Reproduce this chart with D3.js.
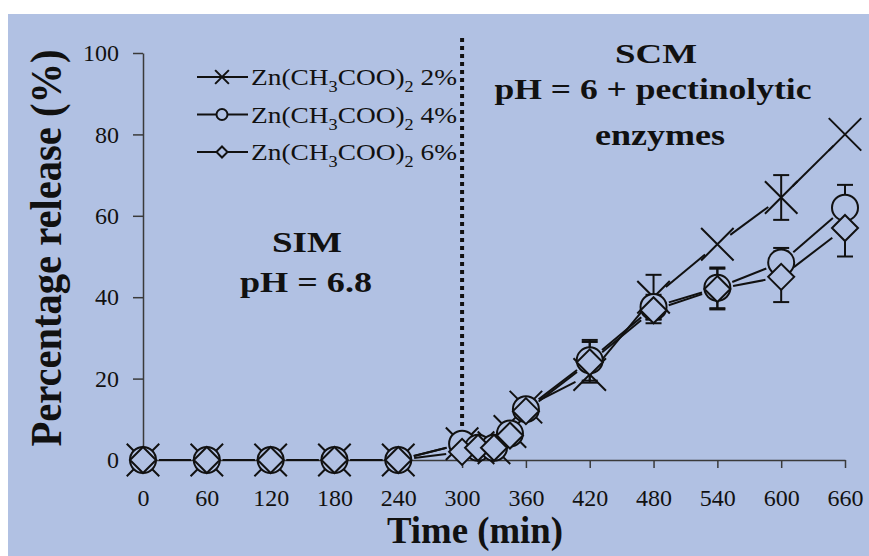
<!DOCTYPE html>
<html>
<head>
<meta charset="utf-8">
<script src="https://cdn.jsdelivr.net/npm/d3@7"></script>
<style>
  body { margin: 0; background: #ffffff; }
  svg { display: block; }
  text { font-family: "Liberation Serif", "Times New Roman", serif; fill: #111; }
</style>
</head>
<body>
<div id="chart"></div>
<script>
// time points (min)
const times = [0, 60, 120, 180, 240, 300, 315, 330, 345, 360, 420, 480, 540, 600, 660];
// percentage release for each Zn(CH3COO)2 concentration
const zn2 = [0, 0, 0, 0, 0, 4, 3, 3, 7, 13, 21, 40, 53, 64.5, 80];
const zn4 = [0, 0, 0, 0, 0, 4, 3, 3, 6.5, 12.5, 24.5, 37.6, 42.3, 48.5, 62];
const zn6 = [0, 0, 0, 0, 0, 2, 3, 3, 6, 12, 24, 36.8, 42, 45, 57];
// standard deviations
const err2 = [0, 0, 0, 0, 0, 0, 0, 0, 0, 1, 0, 5.5, 0, 5.5, 0];
const err4 = [0, 0, 0, 0, 0, 0, 0, 0, 0, 1, 5, 3, 5, 3.6, 5.6];
const err6 = [0, 0, 0, 0, 0, 0, 0, 0, 0, 1, 5, 3.2, 5, 6.2, 7];
const xTicks = [0, 60, 120, 180, 240, 300, 360, 420, 480, 540, 600, 660];
const yTicks = [0, 20, 40, 60, 80, 100];
const legendPct = ["2%", "4%", "6%"];

const W = 869, H = 556;
const bg = "#b1c1e3";

const svg = d3.select("#chart").append("svg")
    .attr("width", W)
    .attr("height", H);

svg.append("rect").attr("width", W).attr("height", H).attr("fill", "#fff");
svg.append("rect").attr("x", 8).attr("y", 14).attr("width", W - 8).attr("height", H - 14).attr("fill", bg);

const x = d3.scaleLinear().domain([0, 660]).range([143, 845]);
const y = d3.scaleLinear().domain([0, 100]).range([460, 53]);

// axes
const yAxis = svg.append("g")
    .attr("transform", `translate(${x(0)},0)`)
    .call(d3.axisLeft(y).tickValues(yTicks).tickSize(10).tickSizeOuter(0).tickPadding(14));
const xAxis = svg.append("g")
    .attr("transform", `translate(0,${y(0)})`)
    .call(d3.axisBottom(x).tickValues(xTicks).tickSize(8).tickSizeOuter(0).tickPadding(21));
[xAxis, yAxis].forEach(a => {
    a.selectAll("path, line").attr("stroke", "#3a3a3a").attr("stroke-width", 1.5);
    a.selectAll("text")
        .style("font-family", "'Liberation Serif', serif")
        .style("font-size", "24px")
        .attr("fill", "#111");
});

// dotted divider between SIM and SCM
svg.append("line")
    .attr("x1", x(300)).attr("x2", x(300))
    .attr("y1", 38).attr("y2", y(0))
    .attr("stroke", "#111")
    .attr("stroke-width", 4)
    .attr("stroke-dasharray", "4,4");

const series = [
    { vals: zn2, err: err2, shape: "x" },
    { vals: zn4, err: err4, shape: "circle" },
    { vals: zn6, err: err6, shape: "diamond" }
];

// error bars
series.forEach(s => {
    times.forEach((t, i) => {
        const e = s.err[i];
        if (!e) return;
        const cx = x(t);
        const g = svg.append("g").attr("stroke", "#111").attr("stroke-width", 2);
        g.append("line").attr("x1", cx).attr("x2", cx)
            .attr("y1", y(s.vals[i] - e)).attr("y2", y(s.vals[i] + e));
        [s.vals[i] - e, s.vals[i] + e].forEach(v => {
            g.append("line").attr("x1", cx - 8).attr("x2", cx + 8)
                .attr("y1", y(v)).attr("y2", y(v));
        });
    });
});

// connecting lines, broken around the markers
const gap = 16;
series.forEach(s => {
    for (let i = 0; i < times.length - 1; i++) {
        const x1 = x(times[i]), y1 = y(s.vals[i]);
        const x2 = x(times[i + 1]), y2 = y(s.vals[i + 1]);
        const len = Math.hypot(x2 - x1, y2 - y1);
        if (len <= 2 * gap) continue;
        const ux = (x2 - x1) / len, uy = (y2 - y1) / len;
        svg.append("line")
            .attr("x1", x1 + ux * gap).attr("y1", y1 + uy * gap)
            .attr("x2", x2 - ux * gap).attr("y2", y2 - uy * gap)
            .attr("stroke", "#111")
            .attr("stroke-width", 2);
    }
});

function marker(g, shape, cx, cy, r) {
    if (shape === "x") {
        const h = r * 1.25;
        g.append("path")
            .attr("d", `M${cx - h},${cy - h}L${cx + h},${cy + h}M${cx - h},${cy + h}L${cx + h},${cy - h}`)
            .attr("stroke", "#111").attr("stroke-width", 2).attr("fill", "none");
    } else if (shape === "circle") {
        g.append("circle").attr("cx", cx).attr("cy", cy).attr("r", r)
            .attr("fill", bg).attr("stroke", "#111").attr("stroke-width", 2);
    } else {
        g.append("path")
            .attr("d", `M${cx},${cy - r}L${cx + r},${cy}L${cx},${cy + r}L${cx - r},${cy}Z`)
            .attr("fill", bg).attr("stroke", "#111").attr("stroke-width", 2);
    }
}

// markers
const mg = svg.append("g");
series.forEach(s => {
    times.forEach((t, i) => marker(mg, s.shape, x(t), y(s.vals[i]), 13));
});

// legend
const leg = svg.append("g");
series.forEach((s, i) => {
    const ly = 77 + i * 37.5;
    leg.append("line").attr("x1", 197).attr("x2", 248).attr("y1", ly).attr("y2", ly)
        .attr("stroke", "#111").attr("stroke-width", 2);
    marker(leg, s.shape, 222, ly, 5.5);
    const t = leg.append("text").attr("x", 251).attr("y", ly + 8)
        .attr("textLength", 206)
        .attr("lengthAdjust", "spacingAndGlyphs")
        .style("font-size", "24px");
    t.append("tspan").text("Zn(CH");
    t.append("tspan").attr("dy", 7).style("font-size", "16px").text("3");
    t.append("tspan").attr("dy", -7).text("COO)");
    t.append("tspan").attr("dy", 7).style("font-size", "16px").text("2");
    t.append("tspan").attr("dy", -7).text(" " + legendPct[i]);
});

// annotations
function bold(txt, cx, by, size, len) {
    svg.append("text")
        .attr("x", cx).attr("y", by)
        .attr("text-anchor", "middle")
        .attr("textLength", len)
        .attr("lengthAdjust", "spacingAndGlyphs")
        .style("font-size", size + "px")
        .style("font-weight", "bold")
        .text(txt);
}
bold("SIM", 307, 252, 30, 70);
bold("pH = 6.8", 306, 292, 30, 132);
bold("SCM", 656, 63, 28, 82);
bold("pH = 6 + pectinolytic", 653, 99, 29, 317);
bold("enzymes", 660, 145, 29, 130);

// axis titles
bold("Time (min)", 475, 543, 37, 176);
svg.append("text")
    .attr("transform", "translate(61,248) rotate(-90)")
    .attr("text-anchor", "middle")
    .attr("textLength", 397)
    .attr("lengthAdjust", "spacingAndGlyphs")
    .style("font-size", "45px")
    .style("font-weight", "bold")
    .text("Percentage release (%)");
</script>
</body>
</html>
